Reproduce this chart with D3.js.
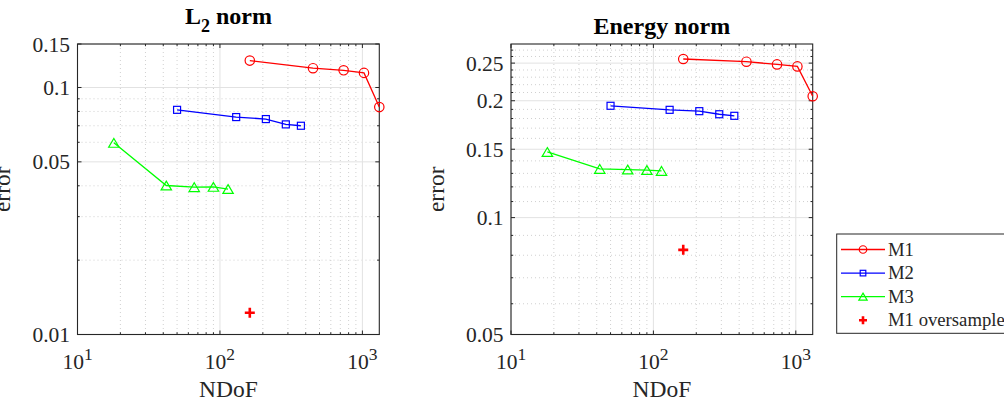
<!DOCTYPE html>
<html>
<head>
<meta charset="utf-8">
<script src="https://cdn.jsdelivr.net/npm/d3@7"></script>
<style>
  body { margin: 0; background: #fff; overflow: hidden; }
  svg { display: block; }
</style>
</head>
<body>
<svg id="chart" width="1004" height="405" font-family="'Liberation Serif', 'Times New Roman', serif"></svg>
<script>
// Degrees of freedom for each method
const ndofM1 = [162, 450, 738, 1026, 1314];
const ndofM2 = [50, 130, 210, 290, 370];
const ndofM3 = [18, 42, 66, 90, 114];
const ndofM1Over = [162];

// L2-norm errors
const l2M1 = [0.1285, 0.1197, 0.1174, 0.1146, 0.0833];
const l2M2 = [0.0812, 0.0759, 0.0745, 0.0709, 0.0700];
const l2M3 = [0.0597, 0.0401, 0.0395, 0.0396, 0.0388];
const l2M1Over = [0.01224];

// Energy-norm errors
const enM1 = [0.2562, 0.2521, 0.2481, 0.2452, 0.2054];
const enM2 = [0.1941, 0.1895, 0.1880, 0.1846, 0.1829];
const enM3 = [0.1476, 0.1335, 0.1330, 0.1326, 0.1319];
const enM1Over = [0.0826];

// Axis ticks
const xTicks = [10, 100, 1000];
const xTickExponents = ["1", "2", "3"];
const xMinorTicks = [20, 30, 40, 50, 60, 70, 80, 90, 200, 300, 400, 500, 600, 700, 800, 900];
const l2YTicks = [0.01, 0.05, 0.1, 0.15];
const l2YTickLabels = ["0.01", "0.05", "0.1", "0.15"];
const l2YMinorTicks = [0.02, 0.03, 0.04, 0.06, 0.07, 0.08, 0.09];
const enYTicks = [0.05, 0.1, 0.15, 0.2, 0.25];
const enYTickLabels = ["0.05", "0.1", "0.15", "0.2", "0.25"];
const enYMinorTicks = [0.06, 0.07, 0.08, 0.09, 0.11, 0.12, 0.13, 0.14, 0.16, 0.17, 0.18, 0.19,
                       0.21, 0.22, 0.23, 0.24, 0.26, 0.27];

const seriesNames = ["M1", "M2", "M3", "M1 oversampled"];
const seriesColors = ["#ff0000", "#0000ff", "#00ff00", "#ff0000"];
const seriesMarkers = ["circle", "square", "triangle", "plus"];

const svg = d3.select("#chart");
const axisColor = "#262626";
const serif = "'Liberation Serif', 'Times New Roman', serif";

function label(sel, size) {
  return sel.attr("font-family", serif).attr("font-size", size).attr("fill", axisColor);
}

function drawMarker(g, kind, x, y, color, s) {
  if (kind === "circle") {
    g.append("circle").attr("cx", x).attr("cy", y).attr("r", 4.7 * s)
      .attr("fill", "none").attr("stroke", color).attr("stroke-width", 1.2);
  } else if (kind === "square") {
    const h = 3.5 * s;
    g.append("rect").attr("x", x - h).attr("y", y - h).attr("width", 2 * h).attr("height", 2 * h)
      .attr("fill", "none").attr("stroke", color).attr("stroke-width", 1.2);
  } else if (kind === "triangle") {
    const w = 5.2 * s, h = 4.4 * s;
    g.append("path").attr("d", `M${x},${y - h}L${x + w},${y + h}L${x - w},${y + h}Z`)
      .attr("fill", "none").attr("stroke", color).attr("stroke-width", 1.2);
  } else if (kind === "plus") {
    const h = 5 * s;
    g.append("path").attr("d", `M${x - h},${y}H${x + h}M${x},${y - h}V${y + h}`)
      .attr("fill", "none").attr("stroke", color).attr("stroke-width", 2.6);
  }
}

function drawPanel(cfg) {
  const x = d3.scaleLog().domain(cfg.xDomain).range([cfg.left, cfg.right]);
  const y = d3.scaleLog().domain(cfg.yDomain).range([cfg.bottom, cfg.top]);
  const g = svg.append("g");
  const xMinor = xMinorTicks.filter(v => x(v) < cfg.right);

  // minor grid (dotted)
  g.selectAll(null).data(xMinor).join("line")
    .attr("x1", d => x(d)).attr("x2", d => x(d)).attr("y1", cfg.top).attr("y2", cfg.bottom)
    .attr("stroke", "#c4c4c4").attr("stroke-width", 0.8).attr("stroke-dasharray", "1,3");
  g.selectAll(null).data(cfg.yMinor).join("line")
    .attr("y1", d => y(d)).attr("y2", d => y(d)).attr("x1", cfg.left).attr("x2", cfg.right)
    .attr("stroke", "#c4c4c4").attr("stroke-width", 0.8).attr("stroke-dasharray", "1,3");
  // major grid (solid)
  g.selectAll(null).data(xTicks).join("line")
    .attr("x1", d => x(d)).attr("x2", d => x(d)).attr("y1", cfg.top).attr("y2", cfg.bottom)
    .attr("stroke", "#e2e2e2").attr("stroke-width", 1);
  g.selectAll(null).data(cfg.yTicks).join("line")
    .attr("y1", d => y(d)).attr("y2", d => y(d)).attr("x1", cfg.left).attr("x2", cfg.right)
    .attr("stroke", "#e2e2e2").attr("stroke-width", 1);

  // tick marks on all four sides, pointing inwards
  const tk = g.append("g").attr("stroke", axisColor).attr("stroke-width", 1);
  const xt = xTicks.map(v => [v, 4]).concat(xMinor.map(v => [v, 2.2]));
  xt.forEach(([v, len]) => {
    tk.append("line").attr("x1", x(v)).attr("x2", x(v)).attr("y1", cfg.bottom).attr("y2", cfg.bottom - len);
    tk.append("line").attr("x1", x(v)).attr("x2", x(v)).attr("y1", cfg.top).attr("y2", cfg.top + len);
  });
  const yt = cfg.yTicks.map(v => [v, 4]).concat(cfg.yMinor.map(v => [v, 2.2]));
  yt.forEach(([v, len]) => {
    tk.append("line").attr("y1", y(v)).attr("y2", y(v)).attr("x1", cfg.left).attr("x2", cfg.left + len);
    tk.append("line").attr("y1", y(v)).attr("y2", y(v)).attr("x1", cfg.right).attr("x2", cfg.right - len);
  });

  // box
  g.append("rect").attr("x", cfg.left).attr("y", cfg.top)
    .attr("width", cfg.right - cfg.left).attr("height", cfg.bottom - cfg.top)
    .attr("fill", "none").attr("stroke", axisColor).attr("stroke-width", 1.1);

  // y tick labels
  label(g.selectAll(null).data(cfg.yTicks).join("text"), 21.5)
    .attr("x", cfg.left - 7.5).attr("y", d => y(d)).attr("dy", "0.35em")
    .attr("text-anchor", "end")
    .text((d, i) => cfg.yTickLabels[i]);

  // x tick labels: 10 with a superscript exponent
  xTicks.forEach((v, i) => {
    const t = label(g.append("text"), 21.5).attr("x", x(v)).attr("y", cfg.bottom + 34.5)
      .attr("text-anchor", "middle");
    t.append("tspan").text("10");
    t.append("tspan").attr("dy", -9).attr("font-size", 17.5).text(xTickExponents[i]);
  });

  // axis labels
  label(g.append("text"), 23.5).attr("x", (cfg.left + cfg.right) / 2).attr("y", 396.5)
    .attr("text-anchor", "middle").text("NDoF");
  label(g.append("text"), 23.5)
    .attr("transform", `translate(${cfg.left - 67.5},${(cfg.top + cfg.bottom) / 2}) rotate(-90)`)
    .attr("text-anchor", "middle").text("error");

  // title
  const tt = label(g.append("text"), 24).attr("x", (cfg.left + cfg.right) / 2).attr("y", cfg.titleY)
    .attr("text-anchor", "middle").attr("font-weight", "bold").attr("fill", "#000");
  cfg.title.forEach(part => {
    const s = tt.append("tspan").text(part.text);
    if (part.sub) s.attr("dy", 8).attr("font-size", 18);
    if (part.after) s.attr("dy", -8);
  });

  // data series
  const line = d3.line().x(d => x(d[0])).y(d => y(d[1]));
  const plot = g.append("g");
  cfg.series.forEach((s, i) => {
    const pts = s.xs.map((v, j) => [v, s.ys[j]]);
    if (seriesMarkers[i] !== "plus") {
      plot.append("path").datum(pts).attr("d", line)
        .attr("fill", "none").attr("stroke", seriesColors[i]).attr("stroke-width", 1.3);
    }
    pts.forEach(p => drawMarker(plot, seriesMarkers[i], x(p[0]), y(p[1]), seriesColors[i], 1));
  });
}

drawPanel({
  left: 77.5, right: 379.3, top: 44, bottom: 334.5,
  xDomain: [10, 1314], yDomain: [0.01, 0.15],
  yTicks: l2YTicks, yTickLabels: l2YTickLabels, yMinor: l2YMinorTicks,
  title: [{ text: "L" }, { text: "2", sub: true }, { text: " norm", after: true }], titleY: 24,
  series: [
    { xs: ndofM1, ys: l2M1 }, { xs: ndofM2, ys: l2M2 },
    { xs: ndofM3, ys: l2M3 }, { xs: ndofM1Over, ys: l2M1Over }
  ]
});

drawPanel({
  left: 511, right: 812.7, top: 44, bottom: 334.5,
  xDomain: [10, 1314], yDomain: [0.05, 0.28],
  yTicks: enYTicks, yTickLabels: enYTickLabels, yMinor: enYMinorTicks,
  title: [{ text: "Energy norm" }], titleY: 34,
  series: [
    { xs: ndofM1, ys: enM1 }, { xs: ndofM2, ys: enM2 },
    { xs: ndofM3, ys: enM3 }, { xs: ndofM1Over, ys: enM1Over }
  ]
});

// legend
const lg = svg.append("g");
lg.append("rect").attr("x", 836.7).attr("y", 234).attr("width", 200).attr("height", 99.3)
  .attr("fill", "#fff").attr("stroke", axisColor).attr("stroke-width", 1);
seriesNames.forEach((name, i) => {
  const cy = 249.5 + i * 23.6;
  if (seriesMarkers[i] !== "plus") {
    lg.append("line").attr("x1", 841).attr("x2", 885).attr("y1", cy).attr("y2", cy)
      .attr("stroke", seriesColors[i]).attr("stroke-width", 1.3);
  }
  drawMarker(lg, seriesMarkers[i], 863, cy, seriesColors[i], 0.8);
  label(lg.append("text"), 18.7).attr("x", 888).attr("y", cy + 6).text(name);
});
</script>
</body>
</html>
